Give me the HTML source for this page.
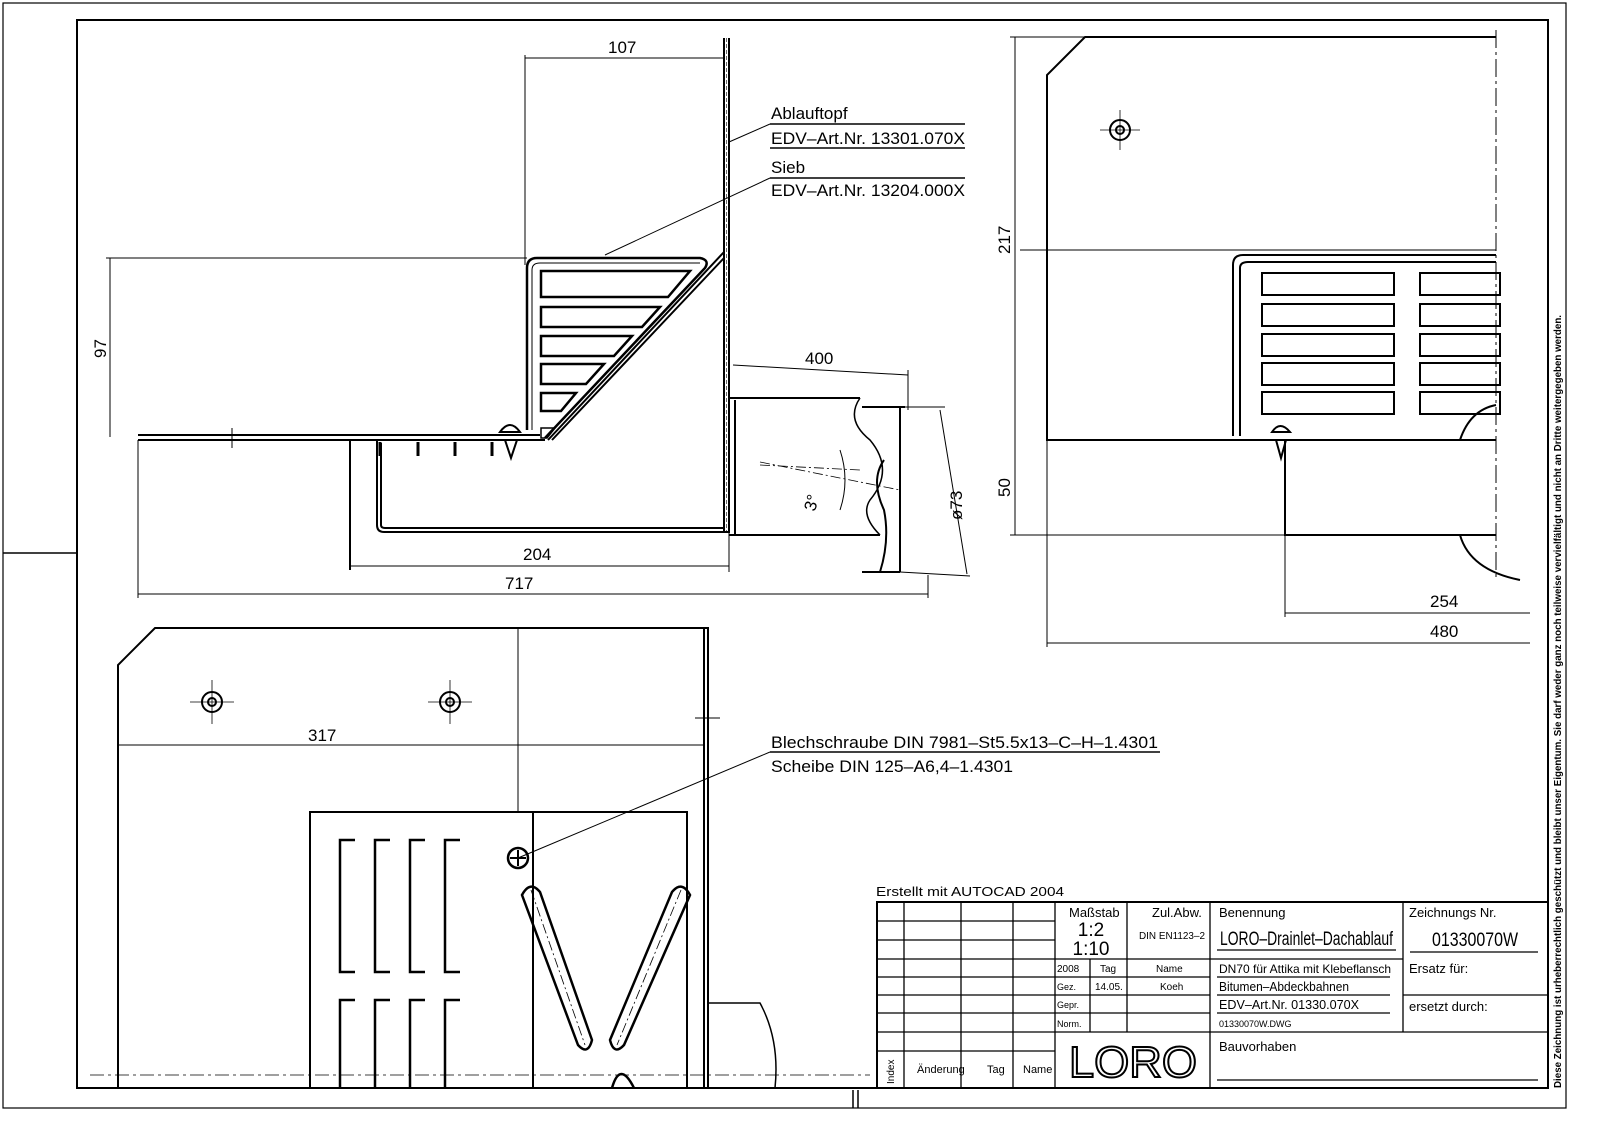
<!DOCTYPE html>
<html><head><meta charset="utf-8"><style>
html,body{margin:0;padding:0;background:#fff;}
svg{display:block;}
text{font-family:"Liberation Sans Narrow","Liberation Sans",sans-serif;fill:#000;}
</style></head><body>
<svg width="1600" height="1133" viewBox="0 0 1600 1133" xmlns="http://www.w3.org/2000/svg">
<g fill="none" stroke="#000" stroke-width="1.5">
<rect x="3" y="3" width="1563" height="1105" stroke-width="1.2"/>
<rect x="77" y="20" width="1471" height="1068" stroke-width="2"/>
<line x1="3" y1="553" x2="77" y2="553"/>
<line x1="853" y1="1090" x2="853" y2="1108"/><line x1="858" y1="1090" x2="858" y2="1108"/>

<line x1="724" y1="38" x2="724" y2="533" stroke-width="2"/>
<line x1="729" y1="38" x2="729" y2="533" stroke-width="2"/>
<line x1="726.5" y1="38" x2="726.5" y2="533" stroke-width="0.6" stroke-dasharray="4 2"/>
<line x1="525" y1="58" x2="724" y2="58" stroke-width="1"/>
<line x1="525" y1="55" x2="525" y2="265" stroke-width="1"/>
<line x1="110" y1="258" x2="110" y2="437" stroke-width="1"/>
<line x1="106" y1="258" x2="527" y2="258" stroke-width="1"/>
<path d="M138 435 H540 M138 440 H545" stroke-width="2"/>
<line x1="232" y1="428" x2="232" y2="448" stroke-width="1"/>
<path d="M527 430 V268 Q527 258 537 258 H700 Q710 260 705 268 L545 438" stroke-width="2.5"/>
<path d="M532 430 V270 Q532 263 540 263 H700" stroke-width="1"/>
<path d="M724 252 L548 440 M724 258 L552 440" stroke-width="2"/>
<g stroke-width="2.5">
<path d="M541 271 H690 L668 297 H541 Z"/>
<path d="M541 307 H660 L642 327 H541 Z"/>
<path d="M541 336 H632 L614 356 H541 Z"/>
<path d="M541 364 H604 L586 384 H541 Z"/>
<path d="M541 393 H576 L561 411 H541 Z"/>
<path d="M541 428 H555 L547 438 H541 Z" stroke-width="1.5"/>
</g>
<path d="M350 440 V570 M377 440 V525 Q377 532 384 532 H729 M381 443 V525 Q381 528 385 528 H724" stroke-width="2"/>
<g stroke-width="3"><line x1="380" y1="442" x2="380" y2="456"/><line x1="418" y1="442" x2="418" y2="456"/><line x1="455" y1="442" x2="455" y2="456"/><line x1="492" y1="442" x2="492" y2="456"/></g>
<path d="M500 432 Q510 418 520 432 Z M505 440 L511 458 L517 440" stroke-width="2"/>
<path d="M729 398 H860 M729 535 H880 M735 400 V535" stroke-width="2"/>
<path d="M860 398 Q845 420 870 440 Q895 470 870 500 Q860 515 880 535" stroke-width="1.5"/>
<path d="M862 407 H905 M862 572 H900 M900 407 V572 M884 460 Q870 480 884 510 Q890 540 880 572" stroke-width="2"/>
<line x1="760" y1="465" x2="860" y2="470" stroke-width="0.8" stroke-dasharray="10 3 2 3"/>
<line x1="760" y1="462" x2="900" y2="490" stroke-width="0.8" stroke-dasharray="10 3 2 3"/>
<path d="M840 450 Q850 480 840 510" stroke-width="1"/>
<line x1="733" y1="365" x2="908" y2="375" stroke-width="1"/>
<line x1="908" y1="370" x2="908" y2="410" stroke-width="1"/>
<line x1="905" y1="407" x2="945" y2="407" stroke-width="1"/>
<line x1="900" y1="572" x2="970" y2="576" stroke-width="1"/>
<line x1="940" y1="410" x2="967" y2="574" stroke-width="1"/>
<line x1="350" y1="566" x2="729" y2="566" stroke-width="1"/>
<line x1="729" y1="533" x2="729" y2="572" stroke-width="1"/>
<line x1="138" y1="594" x2="928" y2="594" stroke-width="1"/>
<line x1="138" y1="440" x2="138" y2="598" stroke-width="1"/>
<line x1="928" y1="575" x2="928" y2="598" stroke-width="1"/>
<line x1="729" y1="142" x2="770" y2="124" stroke-width="1"/>
<line x1="605" y1="255" x2="770" y2="178" stroke-width="1"/>
<line x1="770" y1="124" x2="965" y2="124" stroke-width="1.5"/>
<line x1="770" y1="148" x2="965" y2="148" stroke-width="1.5"/>
<line x1="770" y1="178" x2="965" y2="178" stroke-width="1.5"/>

<path d="M1496 37 H1085 L1047 75 V440 H1496" stroke-width="2"/>
<line x1="1496" y1="30" x2="1496" y2="580" stroke-width="1" stroke-dasharray="18 4 3 4"/>
<line x1="1020" y1="250" x2="1496" y2="250" stroke-width="1"/>
<circle cx="1120" cy="130" r="10" stroke-width="2"/><circle cx="1120" cy="130" r="4" stroke-width="2"/>
<line x1="1100" y1="130" x2="1140" y2="130" stroke-width="0.8"/><line x1="1120" y1="110" x2="1120" y2="150" stroke-width="0.8"/>
<path d="M1233 436 V265 Q1233 255 1243 255 H1496 M1240 436 V268 Q1240 262 1248 262 H1496" stroke-width="2"/>
<g stroke-width="2">
<rect x="1262" y="273" width="132" height="22"/><rect x="1420" y="273" width="80" height="22"/>
<rect x="1262" y="304" width="132" height="22"/><rect x="1420" y="304" width="80" height="22"/>
<rect x="1262" y="334" width="132" height="22"/><rect x="1420" y="334" width="80" height="22"/>
<rect x="1262" y="363" width="132" height="22"/><rect x="1420" y="363" width="80" height="22"/>
<rect x="1262" y="392" width="132" height="22"/><rect x="1420" y="392" width="80" height="22"/>
</g>
<path d="M1460 440 Q1470 410 1496 405 M1460 535 Q1470 570 1520 580" stroke-width="2"/>
<path d="M1285 440 V535 H1496" stroke-width="2"/>
<path d="M1272 432 Q1280 420 1290 432 Z M1276 440 L1281 458 L1286 440" stroke-width="2"/>
<line x1="1015" y1="37" x2="1015" y2="535" stroke-width="1"/>
<line x1="1010" y1="37" x2="1085" y2="37" stroke-width="1"/>
<line x1="1010" y1="535" x2="1285" y2="535" stroke-width="1"/>
<line x1="1285" y1="535" x2="1285" y2="617" stroke-width="1"/>
<line x1="1047" y1="440" x2="1047" y2="647" stroke-width="1"/>
<line x1="1285" y1="613" x2="1530" y2="613" stroke-width="1"/>
<line x1="1047" y1="643" x2="1530" y2="643" stroke-width="1"/>

<path d="M118 1088 V665 L155 628 H708 V1088 M704 628 V1088" stroke-width="2"/>
<line x1="518" y1="628" x2="518" y2="812" stroke-width="1"/>
<line x1="695" y1="718" x2="720" y2="718" stroke-width="1"/>
<g stroke-width="2"><circle cx="212" cy="702" r="10"/><circle cx="212" cy="702" r="4"/><circle cx="450" cy="702" r="10"/><circle cx="450" cy="702" r="4"/></g>
<g stroke-width="0.8"><line x1="190" y1="702" x2="234" y2="702"/><line x1="212" y1="680" x2="212" y2="724"/><line x1="428" y1="702" x2="472" y2="702"/><line x1="450" y1="680" x2="450" y2="724"/></g>
<line x1="118" y1="745" x2="704" y2="745" stroke-width="1"/>
<path d="M310 1088 V812 H687 V1088 M533 812 V1088" stroke-width="2"/>
<g stroke-width="2.5">
<path d="M355 840 H340 V972 H355"/><path d="M390 840 H375 V972 H390"/><path d="M425 840 H410 V972 H425"/><path d="M460 840 H445 V972 H460"/>
<path d="M355 1000 H340 V1088 M390 1000 H375 V1088 M425 1000 H410 V1088 M460 1000 H445 V1088"/>
<path d="M522 895 Q530 880 540 892 L592 1040 Q588 1056 578 1045 Z"/>
<path d="M690 895 Q682 880 672 892 L610 1040 Q614 1056 624 1045 Z"/>
<path d="M612 1088 Q620 1060 634 1088"/>
</g>
<line x1="531" y1="890" x2="585" y2="1045" stroke-width="0.8" stroke-dasharray="10 3 2 3"/>
<line x1="681" y1="890" x2="617" y2="1045" stroke-width="0.8" stroke-dasharray="10 3 2 3"/>
<circle cx="518" cy="858" r="10" stroke-width="2.5"/>
<path d="M510 858 H526 M518 850 V866" stroke-width="2"/>
<line x1="518" y1="858" x2="770" y2="752" stroke-width="1"/>
<line x1="770" y1="752" x2="1160" y2="752" stroke-width="1.5"/>
<path d="M708 1003 H760 Q780 1040 775 1088" stroke-width="1.5"/>
<line x1="90" y1="1075" x2="870" y2="1075" stroke-width="0.8" stroke-dasharray="14 4 3 4"/>

<rect x="877" y="902" width="671" height="186" stroke-width="2"/>
<g stroke-width="1.3">
<line x1="877" y1="921" x2="1055" y2="921"/><line x1="877" y1="940" x2="1055" y2="940"/>
<line x1="877" y1="959" x2="1403" y2="959"/><line x1="877" y1="977" x2="1210" y2="977"/>
<line x1="877" y1="995" x2="1210" y2="995"/><line x1="877" y1="1013" x2="1210" y2="1013"/>
<line x1="877" y1="1032" x2="1548" y2="1032"/><line x1="877" y1="1051" x2="1055" y2="1051"/>
<line x1="1403" y1="995" x2="1548" y2="995"/>
<line x1="904" y1="902" x2="904" y2="1088"/><line x1="961" y1="902" x2="961" y2="1088"/>
<line x1="1013" y1="902" x2="1013" y2="1088"/><line x1="1055" y1="902" x2="1055" y2="1088"/>
<line x1="1090" y1="959" x2="1090" y2="1032"/><line x1="1127" y1="902" x2="1127" y2="1032"/>
<line x1="1210" y1="902" x2="1210" y2="1088"/><line x1="1403" y1="902" x2="1403" y2="1032"/>
<line x1="1217" y1="950" x2="1396" y2="950"/><line x1="1410" y1="952" x2="1538" y2="952"/>
<line x1="1217" y1="977" x2="1390" y2="977"/><line x1="1217" y1="995" x2="1390" y2="995"/>
<line x1="1217" y1="1013" x2="1390" y2="1013"/><line x1="1217" y1="1080" x2="1538" y2="1080"/>
</g>
</g>

<g font-size="17">
<text x="608" y="53">107</text>
<text x="805" y="364">400</text>
<text x="523" y="560">204</text>
<text x="505" y="589">717</text>
<text x="1430" y="607">254</text>
<text x="1430" y="637">480</text>
<text x="308" y="741">317</text>
<text transform="translate(106,358) rotate(-90)">97</text>
<text transform="translate(1010,254) rotate(-90)">217</text>
<text transform="translate(1010,497) rotate(-90)">50</text>
<text transform="translate(962,520) rotate(-90)">ø73</text>
<text transform="translate(815,512) rotate(-75)">3°</text>
<text x="771" y="119">Ablauftopf</text>
<text x="771" y="144" textLength="194" lengthAdjust="spacingAndGlyphs">EDV–Art.Nr. 13301.070X</text>
<text x="771" y="173">Sieb</text>
<text x="771" y="196" textLength="194" lengthAdjust="spacingAndGlyphs">EDV–Art.Nr. 13204.000X</text>
<text x="771" y="748" textLength="387" lengthAdjust="spacingAndGlyphs">Blechschraube DIN 7981–St5.5x13–C–H–1.4301</text>
<text x="771" y="772" textLength="242" lengthAdjust="spacingAndGlyphs">Scheibe DIN 125–A6,4–1.4301</text>
</g>
<g font-size="13">
<text x="876" y="896" textLength="188" lengthAdjust="spacingAndGlyphs">Erstellt mit AUTOCAD 2004</text>
<text x="1069" y="917">Maßstab</text>
<text x="1152" y="917">Zul.Abw.</text>
<text x="1219" y="917">Benennung</text>
<text x="1409" y="917">Zeichnungs Nr.</text>
<text x="1409" y="973">Ersatz für:</text>
<text x="1409" y="1011">ersetzt durch:</text>
<text x="1219" y="1051">Bauvorhaben</text>
<text x="1219" y="973" font-size="12" textLength="172" lengthAdjust="spacingAndGlyphs">DN70 für Attika mit Klebeflansch</text>
<text x="1219" y="991" font-size="12.5" textLength="130" lengthAdjust="spacingAndGlyphs">Bitumen–Abdeckbahnen</text>
<text x="1219" y="1009" font-size="12.5" textLength="140" lengthAdjust="spacingAndGlyphs">EDV–Art.Nr. 01330.070X</text>
<text x="1219" y="1027" font-size="9">01330070W.DWG</text>
<text x="1057" y="972" font-size="10">2008</text>
<text x="1100" y="972" font-size="10">Tag</text>
<text x="1156" y="972" font-size="10">Name</text>
<text x="1057" y="990" font-size="9">Gez.</text>
<text x="1095" y="990" font-size="10">14.05.</text>
<text x="1160" y="990" font-size="10">Koeh</text>
<text x="1057" y="1008" font-size="9">Gepr.</text>
<text x="1057" y="1027" font-size="9">Norm.</text>
<text x="1139" y="939" font-size="10" textLength="66" lengthAdjust="spacingAndGlyphs">DIN EN1123–2</text>
<text x="917" y="1073" font-size="11">Änderung</text>
<text x="987" y="1073" font-size="11">Tag</text>
<text x="1023" y="1073" font-size="11">Name</text>
<text transform="translate(894,1084) rotate(-90)" font-size="10">Index</text>
</g>
<text x="1091" y="936" font-size="19" text-anchor="middle">1:2</text>
<text x="1091" y="955" font-size="19" text-anchor="middle">1:10</text>
<text x="1220" y="945" font-size="19" textLength="173" lengthAdjust="spacingAndGlyphs">LORO–Drainlet–Dachablauf</text>
<text x="1432" y="946" font-size="19" textLength="86" lengthAdjust="spacingAndGlyphs">01330070W</text>
<text x="1069" y="1077" font-size="44" stroke="#000" stroke-width="2" style="fill:none" textLength="128" lengthAdjust="spacingAndGlyphs">LORO</text>
<text transform="translate(1561,1088) rotate(-90)" font-size="10.5" font-weight="bold" textLength="773" lengthAdjust="spacingAndGlyphs">Diese Zeichnung ist urheberrechtlich geschützt und bleibt unser Eigentum. Sie darf weder ganz noch teilweise vervielfältigt und nicht an Dritte weitergegeben werden.</text>
</svg>
</body></html>
